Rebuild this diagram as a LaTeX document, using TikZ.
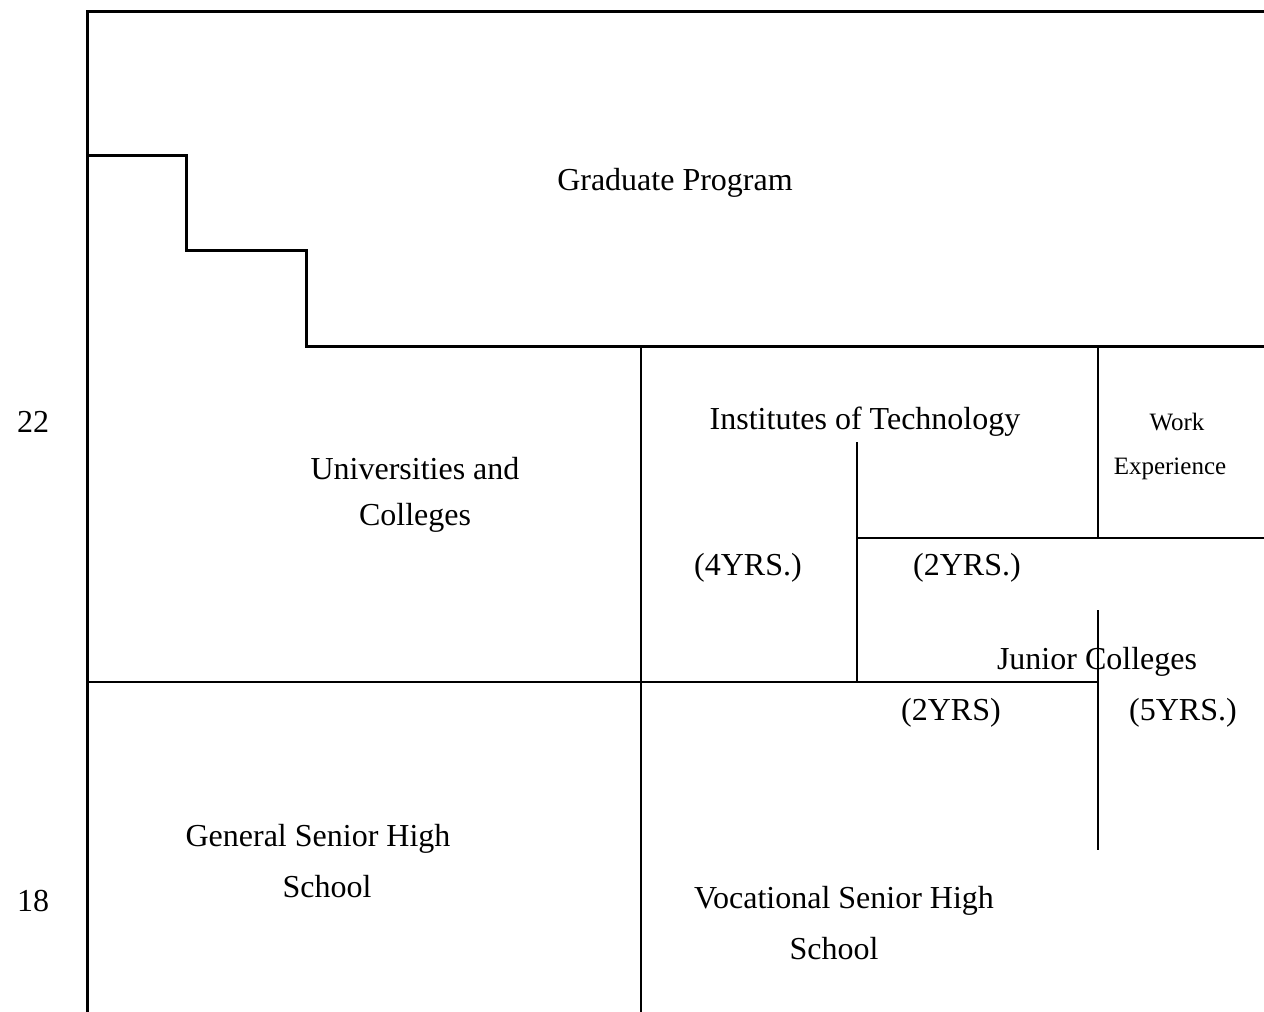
\documentclass[tikz,border=0pt]{standalone}
\usepackage{fontspec}
\setmainfont{Liberation Serif}
\begin{document}
\begin{tikzpicture}[x=1pt,y=-1pt,
  outer/.style={line width=3pt},
  inner/.style={line width=2pt},
  lbl/.style={inner sep=0pt,font=\fontsize{32}{38}\selectfont},
  small/.style={inner sep=0pt,font=\fontsize{25}{30}\selectfont}]
\useasboundingbox (0,0) rectangle (1264,1012);
% frame
\draw[outer] (1264,11) -- (87,11) -- (87,1012);
\draw[outer] (87,155) -- (186,155) -- (186,250) -- (306,250) -- (306,346) -- (1264,346);
\draw[inner] (641,346) -- (641,1012);
\draw[inner] (89,682) -- (1098,682);
\draw[inner] (857,442) -- (857,682);
\draw[inner] (857,538) -- (1264,538);
\draw[inner] (1098,346) -- (1098,538);
\draw[inner] (1098,610) -- (1098,850);
% labels
\node[lbl] (grad) at (675,183) {Graduate Program};
\node[lbl] (a22) at (33,422) {22};
\node[lbl] (a18) at (33,901) {18};
\node[lbl] (univ1) at (415,469) {Universities and};
\node[lbl] (univ2) at (415,518) {Colleges};
\node[lbl] (inst) at (865,422) {Institutes of Technology};
\node[small] (work) at (1177,422) {Work};
\node[small] (exp) at (1170,469) {Experience};
\node[lbl] (y4) at (748,568) {(4YRS.)};
\node[lbl] (y2a) at (967,568) {(2YRS.)};
\node[lbl] (jc) at (1097,662) {Junior Colleges};
\node[lbl] (y2b) at (951,713) {(2YRS)};
\node[lbl] (y5) at (1183,713) {(5YRS.)};
\node[lbl] (gsh1) at (318,839) {General Senior High};
\node[lbl] (gsh2) at (327,887) {School};
\node[lbl] (vsh1) at (844,901) {Vocational Senior High};
\node[lbl] (vsh2) at (834,949) {School};
\end{tikzpicture}
\end{document}
